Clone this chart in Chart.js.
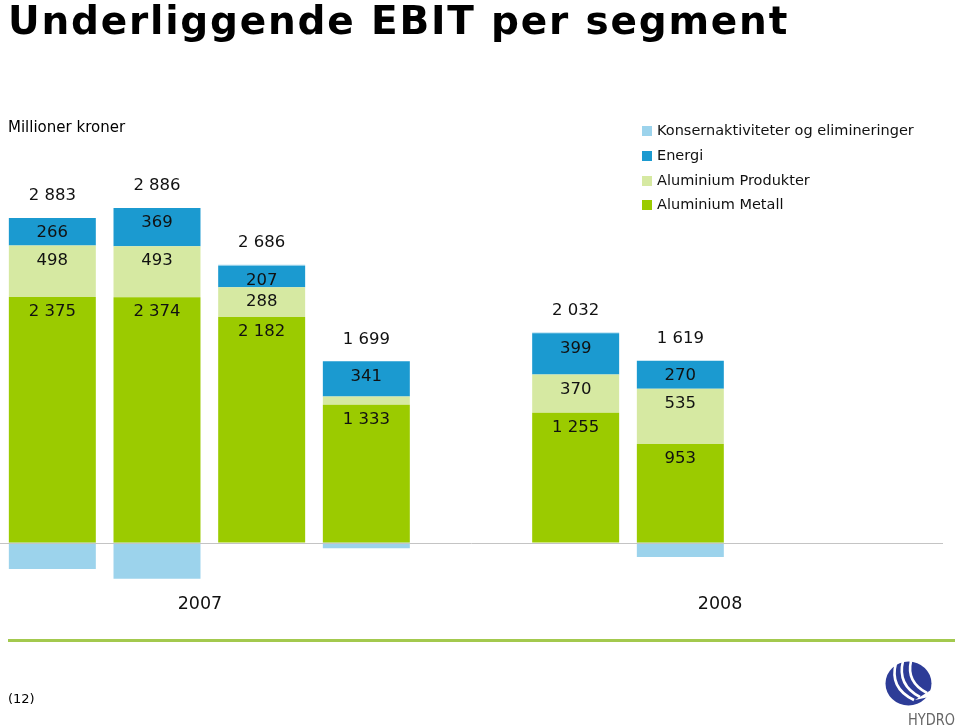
<!DOCTYPE html>
<html><head><meta charset="utf-8">
<script src="https://cdn.jsdelivr.net/npm/chart.js@4.4.1/dist/chart.umd.min.js"></script>
<style>
html,body{margin:0;padding:0;background:#fff;}
#wrap{position:relative;width:960px;height:726px;overflow:hidden;font-family:"DejaVu Sans",Verdana,sans-serif;color:#000;}
#c{position:absolute;left:0;top:0;}
.t{position:absolute;white-space:nowrap;}
.lg{position:absolute;left:642px;font-size:14.5px;line-height:18px;white-space:nowrap;color:#111;}
.lg span{display:inline-block;width:10px;height:10px;margin-right:5px;vertical-align:-1px;}
</style></head><body>
<div id="wrap">
<canvas id="c" width="960" height="726"></canvas>
<div class="t" style="left:8px;top:1px;font-size:39px;line-height:39px;font-weight:bold;letter-spacing:1.8px">Underliggende EBIT per segment</div>
<div class="t" style="left:8px;top:118px;font-size:15px;line-height:18px;">Millioner kroner</div>
<div id="legend"></div>
<div style="position:absolute;left:8px;top:639px;width:947px;height:3px;background:#a3c94e"></div>
<div class="t" style="left:8px;top:691px;font-size:13px;line-height:16px">(12)</div>
<svg style="position:absolute;left:870px;top:650px" width="90" height="76" viewBox="870 650 90 76">
  <ellipse cx="908.5" cy="683.5" rx="23" ry="22" fill="#2d3c97"/>
  <path d="M896 663 Q889 688 914 700" stroke="#fff" stroke-width="2.6" fill="none"/>
  <path d="M903 661 Q897 685 920 697" stroke="#fff" stroke-width="2.6" fill="none"/>
  <path d="M911 661 Q906 682 927 693" stroke="#fff" stroke-width="2.6" fill="none"/>
  <path d="M915 700 L931 690 L929 697 Z" fill="#fff"/>
  <text x="908" y="725" font-family="DejaVu Sans" font-size="15" fill="#666" textLength="47" lengthAdjust="spacingAndGlyphs">HYDRO</text>
</svg>
</div>
<script>
const categories = ["1. kv. 2007","2. kv. 2007","3. kv. 2007","4. kv. 2007","","1. kv. 2008","2. kv. 2008","3. kv. 2008","4. kv. 2008"];
const aluminiumMetall    = [2375, 2374, 2182, 1333, null, 1255, 953, null, null];
const aluminiumProdukter = [498, 493, 288, 80, null, 370, 535, null, null];
const energi             = [266, 369, 207, 341, null, 399, 270, null, null];
const konsern            = [-256, -350, 9, -55, null, 8, -139, null, null];
const totals             = [2883, 2886, 2686, 1699, null, 2032, 1619, null, null];
const yearLabels = ["2007", "2008"];
const yearPos = [1.41, 6.38];

const seriesNames = ["Aluminium Metall","Aluminium Produkter","Energi","Konsernaktiviteter og elimineringer"];
const seriesColors = ["#9bcb00","#d6e9a2","#1b9ad0","#9cd3ec"];
const seriesData = [aluminiumMetall, aluminiumProdukter, energi, konsern];

function fmt(v){return String(v).replace(/\B(?=(\d{3})+(?!\d))/g,' ');}

// HTML legend (top-down reversed)
const lg = document.getElementById('legend');
const legendTops = [121,146,171,195];
[3,2,1,0].forEach((si,k)=>{
  const d=document.createElement('div'); d.className='lg'; d.style.top=legendTops[k]+'px';
  d.innerHTML='<span style="background:'+seriesColors[si]+'"></span>'+seriesNames[si];
  lg.appendChild(d);
});

const labelPlugin = {
  id:'labels',
  afterDatasetsDraw(chart){
    const ctx=chart.ctx, ya=chart.scales.y, xa=chart.scales.x;
    ctx.save();
    const y0=Math.round(ya.getPixelForValue(0))+0.5;
    ctx.strokeStyle='#c4c4c4'; ctx.lineWidth=1;
    ctx.beginPath(); ctx.moveTo(chart.chartArea.left,y0); ctx.lineTo(chart.chartArea.right+1,y0); ctx.stroke();
    ctx.font='16.5px "DejaVu Sans"'; ctx.fillStyle='#111'; ctx.textAlign='center'; ctx.textBaseline='middle';
    [0,1,2].forEach(di=>{
      chart.getDatasetMeta(di).data.forEach((el,i)=>{
        const v=chart.data.datasets[di].data[i];
        if(v==null||v<150) return;
        ctx.fillText(fmt(v), el.x, el.y+15);
      });
    });
    totals.forEach((t,i)=>{
      if(t==null) return;
      let top=Infinity;
      chart.data.datasets.forEach((ds,di)=>{
        const v=ds.data[i];
        if(v!=null && v>0){ top=Math.min(top, chart.getDatasetMeta(di).data[i].y); }
      });
      ctx.fillText(fmt(t), xa.getPixelForValue(i), top-22);
    });
    ctx.font='17.5px "DejaVu Sans"';
    yearLabels.forEach((l,k)=>ctx.fillText(l, xa.getPixelForValue(yearPos[k]), y0+61));
    ctx.restore();
  }
};

new Chart(document.getElementById('c'), {
  type:'bar',
  data:{
    labels:categories,
    datasets: seriesData.map((d,i)=>({
      label:seriesNames[i], data:d, backgroundColor:seriesColors[i],
      borderWidth:0, barPercentage:0.831, categoryPercentage:1
    }))
  },
  options:{
    responsive:false, animation:false, devicePixelRatio:1,
    layout:{padding:{left:0,right:18,top:129,bottom:80}},
    plugins:{legend:{display:false},tooltip:{enabled:false}},
    scales:{
      x:{stacked:true,display:false},
      y:{stacked:true,display:false,min:-1000,max:4000}
    }
  },
  plugins:[labelPlugin]
});
</script>
</body></html>
